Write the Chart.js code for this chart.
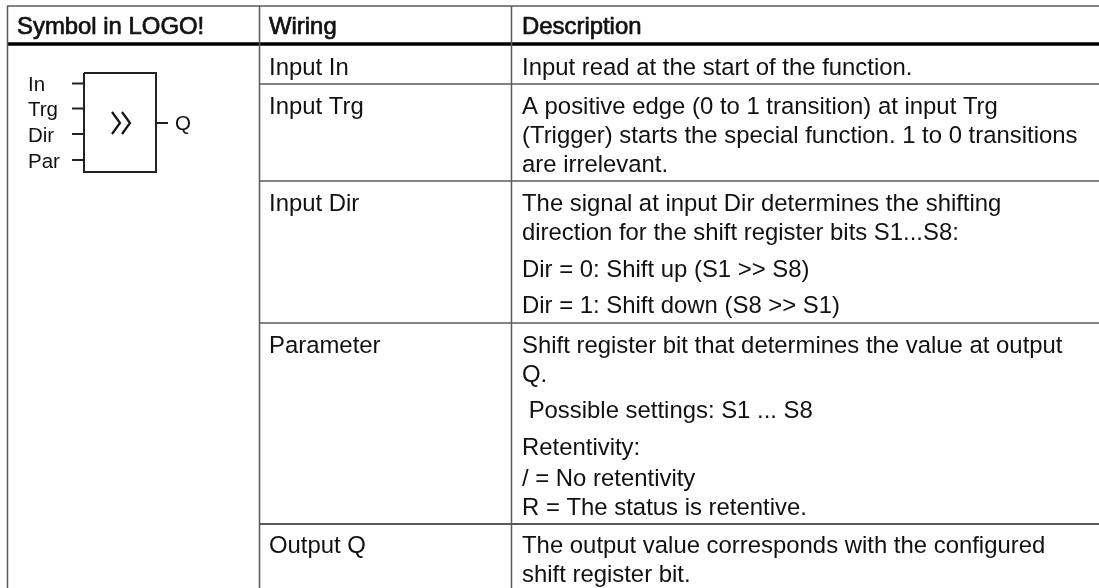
<!DOCTYPE html>
<html>
<head>
<meta charset="utf-8">
<style>
    body { margin: 0; background: #fff; }
    canvas { display: block; }
</style>
<script src="https://cdn.jsdelivr.net/npm/chart.js@4"></script>
</head>
<body>
<canvas id="table-chart" width="1099" height="588"></canvas>
<script>
// table text
const headerLabels = ["Symbol in LOGO!", "Wiring", "Description"];
const headerX = [17, 269, 522];
const headerY = 34;

const wiringLabels = ["Input In", "Input Trg", "Input Dir", "Parameter", "Output Q"];
const wiringY = [75, 114, 211, 353, 553];

const descLines = [
    "Input read at the start of the function.",
    "A positive edge (0 to 1 transition) at input Trg",
    "(Trigger) starts the special function. 1 to 0 transitions",
    "are irrelevant.",
    "The signal at input Dir determines the shifting",
    "direction for the shift register bits S1...S8:",
    "Dir = 0: Shift up (S1 >> S8)",
    "Dir = 1: Shift down (S8 >> S1)",
    "Shift register bit that determines the value at output",
    "Q.",
    " Possible settings: S1 ... S8",
    "Retentivity:",
    "/ = No retentivity",
    "R = The status is retentive.",
    "The output value corresponds with the configured",
    "shift register bit."
];
const descY = [75, 114, 143, 172, 211, 240, 277, 313, 353, 382, 418, 455, 486, 515, 553, 582];

// function block labels
const pinLabels = ["In", "Trg", "Dir", "Par", "Q"];
const pinLabelX = [28, 28, 28, 28, 175];
const pinLabelY = [91, 116, 142, 168, 130];

// table rules
const columnEdges = [7.5, 259.5, 511.5];
const rowEdges = [84, 181, 323, 524];
const topEdge = 6;
const headerEdge = 44;

// block outline, input stubs, output stub, chevrons
const blockX = [84, 156, 156, 84, 84];
const blockY = [73, 73, 172, 172, 73];
const inputStubY = [83.5, 108.5, 134, 160];
const outputStubY = 123;
const chevronX = [[112, 120, 112], [122, 130, 122]];
const chevronY = [[112, 123, 134], [112, 123, 134]];

function rule(xs, ys, color, width) {
    return {
        data: xs.map((x, i) => ({ x: x, y: ys[i] })),
        showLine: true,
        borderColor: color,
        borderWidth: width,
        pointRadius: 0,
        clip: false
    };
}

const datasets = [];
datasets.push(rule([7, 1099], [topEdge, topEdge], "#5a5a5a", 1.5));
for (var i in columnEdges) {
    datasets.push(rule([columnEdges[i], columnEdges[i]], [topEdge, 588], "#5a5a5a", 1.5));
}
for (var i in rowEdges) {
    const c = i == 3 ? "#222" : "#5a5a5a";
    datasets.push(rule([259.5, 1099], [rowEdges[i], rowEdges[i]], c, 1.5));
}
datasets.push(rule([7, 1099], [headerEdge, headerEdge], "#000", 3.5));
datasets.push(rule(blockX, blockY, "#222", 2));
for (var i in inputStubY) {
    datasets.push(rule([72, 84], [inputStubY[i], inputStubY[i]], "#222", 2));
}
datasets.push(rule([156, 168], [outputStubY, outputStubY], "#222", 2));
datasets.push(rule(chevronX[0], chevronY[0], "#111", 2.2));
datasets.push(rule(chevronX[1], chevronY[1], "#111", 2.2));

const tableText = {
    id: "tableText",
    afterDatasetsDraw(chart) {
        const ctx = chart.ctx;
        const sx = chart.scales.x;
        const sy = chart.scales.y;
        ctx.save();
        ctx.fillStyle = "#111";
        ctx.strokeStyle = "#111";
        ctx.textBaseline = "alphabetic";

        ctx.font = "23.9px 'Liberation Sans'";
        ctx.lineWidth = 0.7;
        for (var i in headerLabels) {
            const px = sx.getPixelForValue(headerX[i]);
            const py = sy.getPixelForValue(headerY);
            ctx.fillText(headerLabels[i], px, py);
            ctx.strokeText(headerLabels[i], px, py);
        }
        for (var i in wiringLabels) {
            ctx.fillText(wiringLabels[i], sx.getPixelForValue(269), sy.getPixelForValue(wiringY[i]));
        }
        for (var i in descLines) {
            ctx.fillText(descLines[i], sx.getPixelForValue(522), sy.getPixelForValue(descY[i]));
        }
        ctx.font = "20.5px 'Liberation Sans'";
        for (var i in pinLabels) {
            ctx.fillText(pinLabels[i], sx.getPixelForValue(pinLabelX[i]), sy.getPixelForValue(pinLabelY[i]));
        }
        ctx.restore();
    }
};

new Chart(document.getElementById("table-chart"), {
    type: 'scatter',
    data: { datasets: datasets },
    options: {
        responsive: false,
        animation: false,
        layout: { padding: 0 },
        plugins: { legend: { display: false }, tooltip: { enabled: false } },
        scales: {
            x: { type: 'linear', min: 0, max: 1099, display: false },
            y: { type: 'linear', min: 0, max: 588, reverse: true, display: false }
        }
    },
    plugins: [tableText]
});
</script>
</body>
</html>
